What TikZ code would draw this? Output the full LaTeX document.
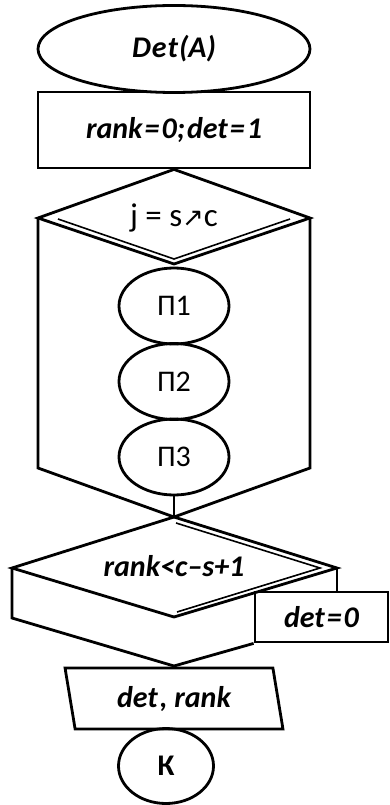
\documentclass[tikz,border=0pt]{standalone}
\usepackage{fontspec}
\setmainfont{Carlito}
\newfontfamily\arrowfont{DejaVu Sans}
\usepackage{tikz}
\usetikzlibrary{calc, shapes.geometric}

\begin{document}
\begin{tikzpicture}[x=1pt, y=-1pt, line width=2.8pt, line join=miter,
    oval/.style={draw, ellipse, inner sep=0pt},
    khoi/.style={draw, rectangle, inner sep=0pt},
    chu/.style={font=\fontsize{30}{34}\selectfont\bfseries\itshape},
    thuong/.style={font=\fontsize{30}{34}\selectfont},
    manh/.style={line width=1.6pt}]
    \useasboundingbox (0,0) rectangle (390,805);

    % Vẽ khối bắt đầu và khởi tạo
    \node[oval, chu, minimum width=272, minimum height=87] (batdau) at (174,49) {D\kern1pt e\kern1pt t\kern1pt(A)};
    \node[khoi, chu, minimum width=272, minimum height=76] (khoitao) at (174,130) {rank\kern2pt=\kern2pt0;\kern2pt det\kern2pt=\kern2pt1};

    % Vẽ vòng lặp
    \coordinate (lapT) at (khoitao.south);
    \coordinate (lapL) at (38,218);
    \coordinate (lapR) at (310,218);
    \coordinate (lapB) at (174,264);
    \coordinate (lapLd) at (38,468);
    \coordinate (lapRd) at (310,468);
    \coordinate (lapE) at (174,517);
    \draw (lapL) -- (lapT) -- (lapR) -- (lapB) -- cycle;
    \draw[manh] (58,219) -- (174,259) -- (290,219);
    \draw (lapL) -- (lapLd) -- (lapE) -- (lapRd) -- (lapR);
    \node[thuong, font=\fontsize{33}{38}\selectfont] (dieukien) at (174,218) {j = s{\arrowfont\fontsize{26}{30}\selectfont ↗}c};

    % Các khối con
    \node[oval, thuong, minimum width=110, minimum height=76] (p1) at (174,306) {П1};
    \node[oval, thuong, minimum width=110, minimum height=76] (p2) at (174,381.5) {П2};
    \node[oval, thuong, minimum width=110, minimum height=76] (p3) at (174,457) {П3};
    \draw (p3.south) -- (lapE);

    % Vẽ khối điều kiện
    \coordinate (dkR) at (337,568);
    \coordinate (dkB) at (174,617);
    \coordinate (dkL) at (12,568);
    \coordinate (gop) at (174,666);
    \draw (lapE) -- (dkR) -- (dkB) -- (dkL) -- cycle;
    \draw[manh] (176,523) -- (320,568) -- (177,612);
    \node[chu] (sosanh) at (174,566) {rank<c\textendash s+1};
    \node[khoi, chu, minimum width=133, minimum height=50] (gan) at (321.5,617) {det\kern2pt=\kern2pt0};
    \draw (dkL) -- (12,618) -- (gop);
    \draw (dkR) -- (dkR |- gan.north);
    \draw (gan.south west) -- (gop);

    % Xuất kết quả và kết thúc
    \node[draw, trapezium, trapezium left angle=103, trapezium right angle=77,
        trapezium stretches=true, minimum width=218, minimum height=61, inner sep=0pt,
        chu] (xuat) at (174,698.5) {det\kern2pt, rank};
    \node[oval, font=\fontsize{30}{34}\selectfont\bfseries, minimum width=95, minimum height=75] (ketthuc) at (166,766) {К};

\end{tikzpicture}
\end{document}
